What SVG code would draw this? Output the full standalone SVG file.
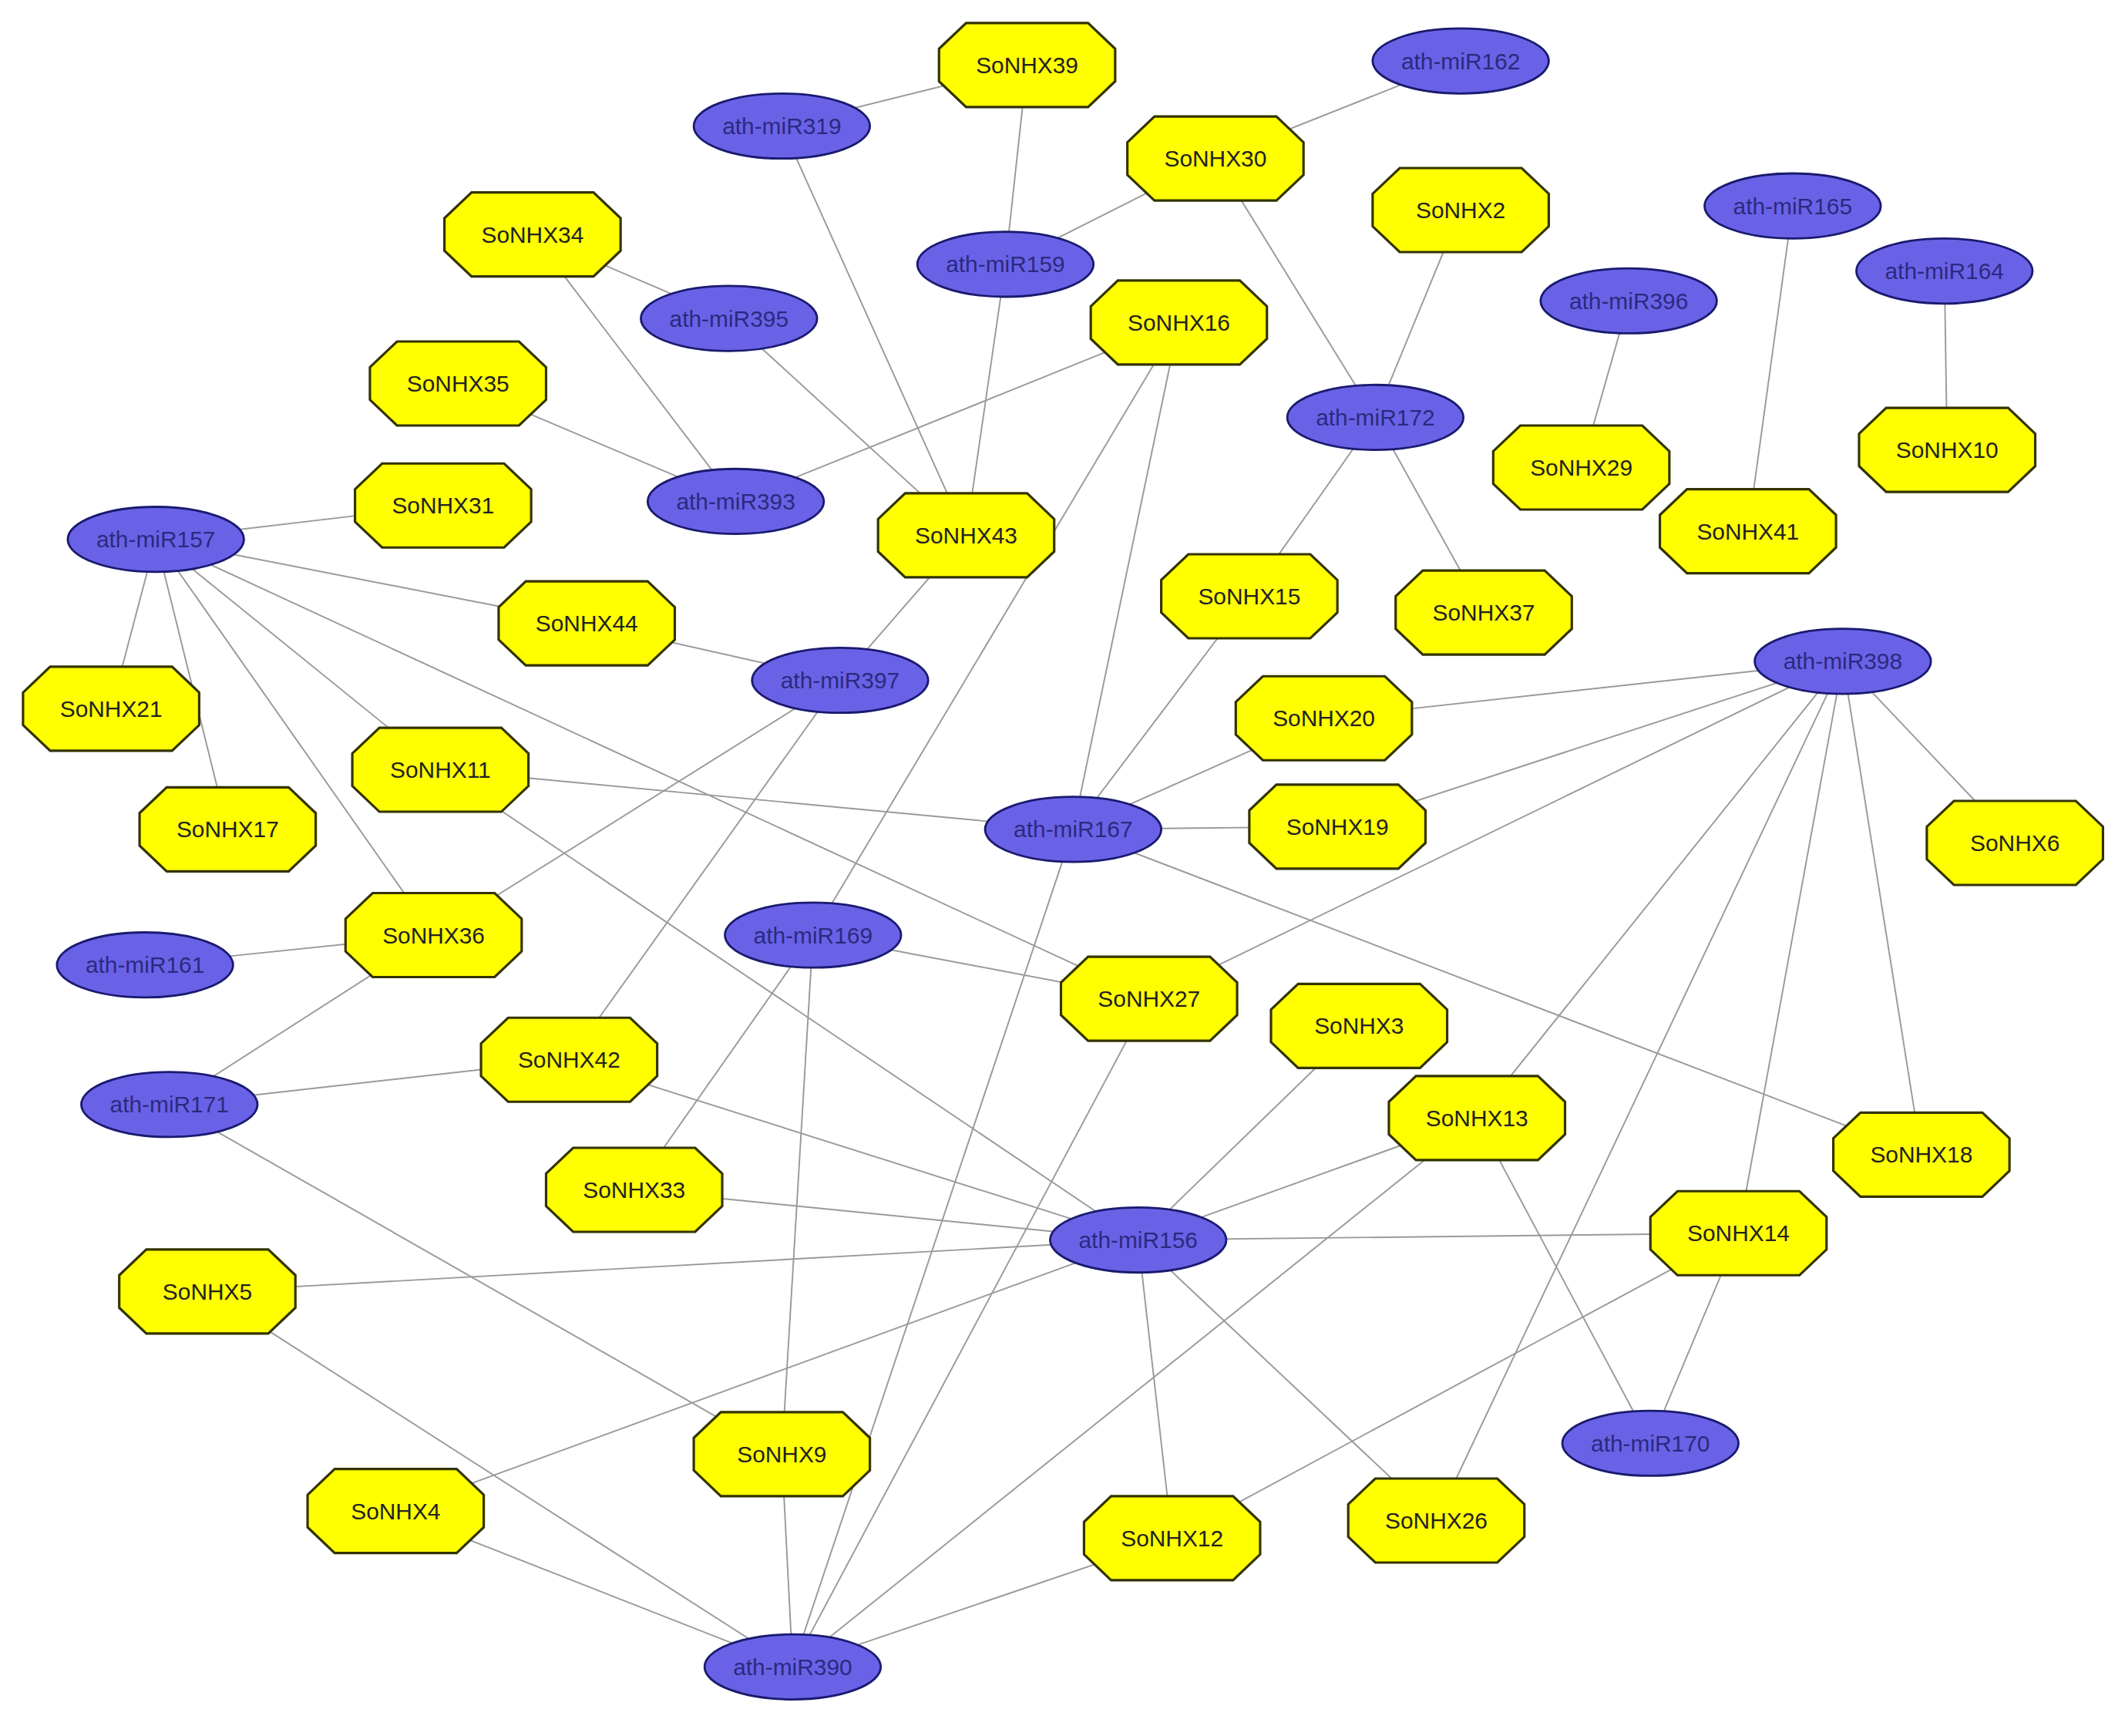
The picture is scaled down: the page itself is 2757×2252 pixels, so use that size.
<svg xmlns="http://www.w3.org/2000/svg" xmlns:xlink="http://www.w3.org/1999/xlink" width="2757" height="2252" viewBox="0 0 2757 2252">
<style>
.e line{stroke:#9a9a9a;stroke-width:1.1}
.m ellipse{fill:#6a62e6;stroke:#1a1a70;stroke-width:1.6}
.m text{fill:#2a2a80}
.x use{fill:#ffff00;stroke:#333300;stroke-width:1.8}
text{font-family:"Liberation Sans",Arial,sans-serif;font-size:17px;text-anchor:middle;dominant-baseline:central;fill:#222}
</style>
<defs><polygon id="oct" points="-45,-31 45,-31 65,-12 65,12 45,31 -45,31 -65,12 -65,-12"/></defs>
<rect width="2757" height="2252" fill="#fff"/>
<g transform="scale(1.758)">
<g class="e" id="edges">
<line x1="758" y1="48" x2="577" y2="93"/>
<line x1="758" y1="48" x2="742" y2="195"/>
<line x1="1078" y1="45" x2="897" y2="117"/>
<line x1="897" y1="117" x2="742" y2="195"/>
<line x1="897" y1="117" x2="1015" y2="308"/>
<line x1="393" y1="173" x2="538" y2="235"/>
<line x1="393" y1="173" x2="543" y2="370"/>
<line x1="338" y1="283" x2="543" y2="370"/>
<line x1="543" y1="370" x2="870" y2="238"/>
<line x1="577" y1="93" x2="713" y2="395"/>
<line x1="538" y1="235" x2="713" y2="395"/>
<line x1="742" y1="195" x2="713" y2="395"/>
<line x1="713" y1="395" x2="620" y2="502"/>
<line x1="870" y1="238" x2="792" y2="612"/>
<line x1="870" y1="238" x2="600" y2="690"/>
<line x1="1078" y1="155" x2="1015" y2="308"/>
<line x1="1015" y1="308" x2="922" y2="440"/>
<line x1="1015" y1="308" x2="1095" y2="452"/>
<line x1="1202" y1="222" x2="1167" y2="345"/>
<line x1="1323" y1="152" x2="1290" y2="392"/>
<line x1="1435" y1="200" x2="1437" y2="332"/>
<line x1="115" y1="398" x2="327" y2="373"/>
<line x1="115" y1="398" x2="433" y2="460"/>
<line x1="115" y1="398" x2="82" y2="523"/>
<line x1="115" y1="398" x2="168" y2="612"/>
<line x1="115" y1="398" x2="325" y2="568"/>
<line x1="115" y1="398" x2="320" y2="690"/>
<line x1="115" y1="398" x2="848" y2="737"/>
<line x1="433" y1="460" x2="620" y2="502"/>
<line x1="325" y1="568" x2="792" y2="612"/>
<line x1="325" y1="568" x2="840" y2="915"/>
<line x1="620" y1="502" x2="320" y2="690"/>
<line x1="620" y1="502" x2="420" y2="782"/>
<line x1="320" y1="690" x2="107" y2="712"/>
<line x1="320" y1="690" x2="125" y2="815"/>
<line x1="125" y1="815" x2="420" y2="782"/>
<line x1="125" y1="815" x2="577" y2="1073"/>
<line x1="420" y1="782" x2="840" y2="915"/>
<line x1="468" y1="878" x2="600" y2="690"/>
<line x1="468" y1="878" x2="840" y2="915"/>
<line x1="600" y1="690" x2="848" y2="737"/>
<line x1="600" y1="690" x2="577" y2="1073"/>
<line x1="792" y1="612" x2="922" y2="440"/>
<line x1="792" y1="612" x2="977" y2="530"/>
<line x1="792" y1="612" x2="987" y2="610"/>
<line x1="792" y1="612" x2="1418" y2="852"/>
<line x1="792" y1="612" x2="585" y2="1230"/>
<line x1="977" y1="530" x2="1360" y2="488"/>
<line x1="987" y1="610" x2="1360" y2="488"/>
<line x1="848" y1="737" x2="1360" y2="488"/>
<line x1="1360" y1="488" x2="1487" y2="622"/>
<line x1="1360" y1="488" x2="1418" y2="852"/>
<line x1="1360" y1="488" x2="1090" y2="825"/>
<line x1="1360" y1="488" x2="1283" y2="910"/>
<line x1="1360" y1="488" x2="1060" y2="1122"/>
<line x1="848" y1="737" x2="585" y2="1230"/>
<line x1="1003" y1="757" x2="840" y2="915"/>
<line x1="1090" y1="825" x2="840" y2="915"/>
<line x1="1090" y1="825" x2="585" y2="1230"/>
<line x1="1090" y1="825" x2="1218" y2="1065"/>
<line x1="1283" y1="910" x2="840" y2="915"/>
<line x1="1283" y1="910" x2="1218" y2="1065"/>
<line x1="1283" y1="910" x2="865" y2="1135"/>
<line x1="292" y1="1115" x2="840" y2="915"/>
<line x1="153" y1="953" x2="840" y2="915"/>
<line x1="153" y1="953" x2="585" y2="1230"/>
<line x1="577" y1="1073" x2="585" y2="1230"/>
<line x1="840" y1="915" x2="865" y2="1135"/>
<line x1="840" y1="915" x2="1060" y2="1122"/>
<line x1="292" y1="1115" x2="585" y2="1230"/>
<line x1="865" y1="1135" x2="585" y2="1230"/>
</g>
<g class="m">
<g id="miR162"><ellipse cx="1078" cy="45" rx="65" ry="24"/><text x="1078" y="45">ath-miR162</text></g>
<g id="miR319"><ellipse cx="577" cy="93" rx="65" ry="24"/><text x="577" y="93">ath-miR319</text></g>
<g id="miR159"><ellipse cx="742" cy="195" rx="65" ry="24"/><text x="742" y="195">ath-miR159</text></g>
<g id="miR395"><ellipse cx="538" cy="235" rx="65" ry="24"/><text x="538" y="235">ath-miR395</text></g>
<g id="miR165"><ellipse cx="1323" cy="152" rx="65" ry="24"/><text x="1323" y="152">ath-miR165</text></g>
<g id="miR164"><ellipse cx="1435" cy="200" rx="65" ry="24"/><text x="1435" y="200">ath-miR164</text></g>
<g id="miR396"><ellipse cx="1202" cy="222" rx="65" ry="24"/><text x="1202" y="222">ath-miR396</text></g>
<g id="miR172"><ellipse cx="1015" cy="308" rx="65" ry="24"/><text x="1015" y="308">ath-miR172</text></g>
<g id="miR393"><ellipse cx="543" cy="370" rx="65" ry="24"/><text x="543" y="370">ath-miR393</text></g>
<g id="miR157"><ellipse cx="115" cy="398" rx="65" ry="24"/><text x="115" y="398">ath-miR157</text></g>
<g id="miR397"><ellipse cx="620" cy="502" rx="65" ry="24"/><text x="620" y="502">ath-miR397</text></g>
<g id="miR398"><ellipse cx="1360" cy="488" rx="65" ry="24"/><text x="1360" y="488">ath-miR398</text></g>
<g id="miR167"><ellipse cx="792" cy="612" rx="65" ry="24"/><text x="792" y="612">ath-miR167</text></g>
<g id="miR169"><ellipse cx="600" cy="690" rx="65" ry="24"/><text x="600" y="690">ath-miR169</text></g>
<g id="miR161"><ellipse cx="107" cy="712" rx="65" ry="24"/><text x="107" y="712">ath-miR161</text></g>
<g id="miR171"><ellipse cx="125" cy="815" rx="65" ry="24"/><text x="125" y="815">ath-miR171</text></g>
<g id="miR156"><ellipse cx="840" cy="915" rx="65" ry="24"/><text x="840" y="915">ath-miR156</text></g>
<g id="miR170"><ellipse cx="1218" cy="1065" rx="65" ry="24"/><text x="1218" y="1065">ath-miR170</text></g>
<g id="miR390"><ellipse cx="585" cy="1230" rx="65" ry="24"/><text x="585" y="1230">ath-miR390</text></g>
</g>
<g class="x">
<g id="X39"><use xlink:href="#oct" x="758" y="48"/><text x="758" y="48">SoNHX39</text></g>
<g id="X30"><use xlink:href="#oct" x="897" y="117"/><text x="897" y="117">SoNHX30</text></g>
<g id="X34"><use xlink:href="#oct" x="393" y="173"/><text x="393" y="173">SoNHX34</text></g>
<g id="X2"><use xlink:href="#oct" x="1078" y="155"/><text x="1078" y="155">SoNHX2</text></g>
<g id="X16"><use xlink:href="#oct" x="870" y="238"/><text x="870" y="238">SoNHX16</text></g>
<g id="X35"><use xlink:href="#oct" x="338" y="283"/><text x="338" y="283">SoNHX35</text></g>
<g id="X31"><use xlink:href="#oct" x="327" y="373"/><text x="327" y="373">SoNHX31</text></g>
<g id="X43"><use xlink:href="#oct" x="713" y="395"/><text x="713" y="395">SoNHX43</text></g>
<g id="X29"><use xlink:href="#oct" x="1167" y="345"/><text x="1167" y="345">SoNHX29</text></g>
<g id="X10"><use xlink:href="#oct" x="1437" y="332"/><text x="1437" y="332">SoNHX10</text></g>
<g id="X41"><use xlink:href="#oct" x="1290" y="392"/><text x="1290" y="392">SoNHX41</text></g>
<g id="X44"><use xlink:href="#oct" x="433" y="460"/><text x="433" y="460">SoNHX44</text></g>
<g id="X15"><use xlink:href="#oct" x="922" y="440"/><text x="922" y="440">SoNHX15</text></g>
<g id="X37"><use xlink:href="#oct" x="1095" y="452"/><text x="1095" y="452">SoNHX37</text></g>
<g id="X21"><use xlink:href="#oct" x="82" y="523"/><text x="82" y="523">SoNHX21</text></g>
<g id="X20"><use xlink:href="#oct" x="977" y="530"/><text x="977" y="530">SoNHX20</text></g>
<g id="X11"><use xlink:href="#oct" x="325" y="568"/><text x="325" y="568">SoNHX11</text></g>
<g id="X17"><use xlink:href="#oct" x="168" y="612"/><text x="168" y="612">SoNHX17</text></g>
<g id="X19"><use xlink:href="#oct" x="987" y="610"/><text x="987" y="610">SoNHX19</text></g>
<g id="X6"><use xlink:href="#oct" x="1487" y="622"/><text x="1487" y="622">SoNHX6</text></g>
<g id="X36"><use xlink:href="#oct" x="320" y="690"/><text x="320" y="690">SoNHX36</text></g>
<g id="X27"><use xlink:href="#oct" x="848" y="737"/><text x="848" y="737">SoNHX27</text></g>
<g id="X3"><use xlink:href="#oct" x="1003" y="757"/><text x="1003" y="757">SoNHX3</text></g>
<g id="X42"><use xlink:href="#oct" x="420" y="782"/><text x="420" y="782">SoNHX42</text></g>
<g id="X13"><use xlink:href="#oct" x="1090" y="825"/><text x="1090" y="825">SoNHX13</text></g>
<g id="X18"><use xlink:href="#oct" x="1418" y="852"/><text x="1418" y="852">SoNHX18</text></g>
<g id="X33"><use xlink:href="#oct" x="468" y="878"/><text x="468" y="878">SoNHX33</text></g>
<g id="X14"><use xlink:href="#oct" x="1283" y="910"/><text x="1283" y="910">SoNHX14</text></g>
<g id="X5"><use xlink:href="#oct" x="153" y="953"/><text x="153" y="953">SoNHX5</text></g>
<g id="X9"><use xlink:href="#oct" x="577" y="1073"/><text x="577" y="1073">SoNHX9</text></g>
<g id="X4"><use xlink:href="#oct" x="292" y="1115"/><text x="292" y="1115">SoNHX4</text></g>
<g id="X12"><use xlink:href="#oct" x="865" y="1135"/><text x="865" y="1135">SoNHX12</text></g>
<g id="X26"><use xlink:href="#oct" x="1060" y="1122"/><text x="1060" y="1122">SoNHX26</text></g>
</g>
</g>
</svg>
